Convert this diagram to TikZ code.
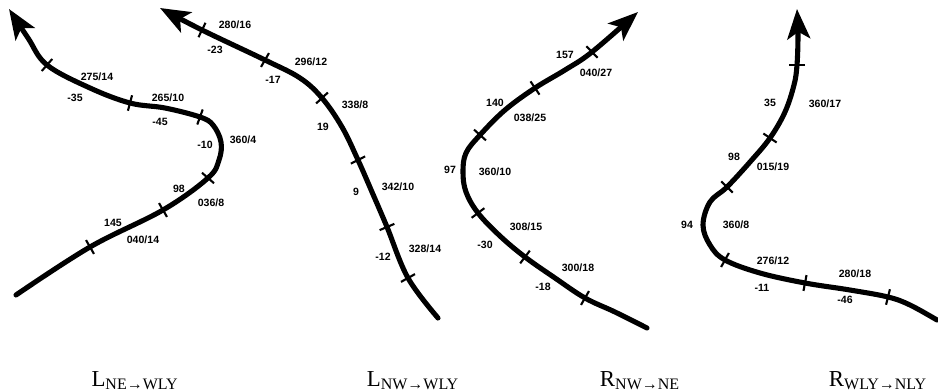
\documentclass[tikz,border=0pt]{standalone}
\usepackage{fontspec}
\setmainfont{Liberation Serif}
\newfontfamily\obsfont{Liberation Sans}
\usetikzlibrary{arrows.meta}
\tikzset{
  track/.style={line width=2.9pt,line cap=round,line join=round,
    -{Stealth[length=17pt,width=13pt,inset=4pt]}},
  tck/.style={line width=1.2pt},
  obs/.style={font=\obsfont\bfseries\fontsize{6}{7}\selectfont,inner sep=0pt},
  caption/.style={font=\fontsize{13}{15}\selectfont,inner sep=0pt,anchor=base}
}

\begin{document}
\begin{tikzpicture}[x=0.02cm,y=-0.02cm]
\useasboundingbox (0,0) rectangle (938,392);
% L NE -> WLY
\draw[track] plot[smooth,tension=.6] coordinates {(16,295) (90,247) (163,210) (208,178) (219,160) (221,142) (213,125) (200,117) (165,108) (130,103) (90,88) (47,65) (28,38) (9,9)};
\foreach \p/\a in {{90,247}/60,{163,210}/60,{208,178}/41,{200,117}/110,{130,103}/105,{47,65}/131}
  \draw[tck] (\p) ++(\a:8) -- ++(\a+180:16);
\foreach \p/\t [count=\i] in {{97,77}/{275/14},{75,98}/{-35},{168,98}/{265/10},{160,122}/{-45},{205,145}/{-10},{243,140}/{360/4},{179,189}/{98},{211,203}/{036/8},{113,223}/{145},{143,240}/{040/14}}
  \node[obs] (a\i) at (\p) {\t};
% L NW -> WLY
\draw[track] plot[smooth,tension=.6] coordinates {(438,318) (408,278) (387,227) (372,192) (358,160) (342,127) (322,98) (300,78) (265,60) (202,30) (160,8)};
\foreach \p/\a in {{202,30}/116,{265,60}/120,{322,98}/137,{358,160}/153,{387,227}/157,{408,278}/151}
  \draw[tck] (\p) ++(\a:8) -- ++(\a+180:16);
\foreach \p/\t [count=\i] in {{235,25}/{280/16},{215,50}/{-23},{311,62}/{296/12},{273,80}/{-17},{355,105}/{338/8},{323,127}/{19},{356,192}/{9},{398,187}/{342/10},{383,257}/{-12},{425,249}/{328/14}}
  \node[obs] (b\i) at (\p) {\t};
% R NW -> NE
\draw[track] plot[smooth,tension=.6] coordinates {(647,328) (615,312) (585,298) (555,278) (525,257) (500,236) (478,213) (466,192) (463,172) (466,153) (480,135) (505,110) (535,88) (565,70) (592,52) (638,12)};
\foreach \p/\a in {{585,298}/120,{525,257}/127,{478,213}/143,{480,135}/42,{535,88}/56,{592,52}/46}
  \draw[tck] (\p) ++(\a:8) -- ++(\a+180:16);
\foreach \p/\t [count=\i] in {{565,55}/{157},{596,73}/{040/27},{495,103}/{140},{530,118}/{038/25},{450,170}/{97},{495,172}/{360/10},{526,227}/{308/15},{485,245}/{-30},{578,268}/{300/18},{543,287}/{-18}}
  \node[obs] (c\i) at (\p) {\t};
% R WLY -> NLY
\draw[track] plot[smooth,tension=.6] coordinates {(937,320) (910,305) (888,297) (850,290) (805,283) (760,273) (725,260) (710,245) (703,225) (710,202) (727,187) (750,162) (770,138) (785,112) (794,85) (797,65) (798,35) (797,9)};
\foreach \p/\a in {{888,297}/104,{805,283}/101,{725,260}/119,{727,187}/44,{770,138}/34,{797,65}/0}
  \draw[tck] (\p) ++(\a:8) -- ++(\a+180:16);
\foreach \p/\t [count=\i] in {{770,103}/{35},{825,104}/{360/17},{734,157}/{98},{773,167}/{015/19},{687,225}/{94},{736,225}/{360/8},{773,261}/{276/12},{855,274}/{280/18},{762,288}/{-11},{845,300}/{-46}}
  \node[obs] (d\i) at (\p) {\t};
% captions
\node[caption] (capA) at (135,386) {L\textsubscript{NE→WLY}};
\node[caption] (capB) at (413,386) {L\textsubscript{NW→WLY}};
\node[caption] (capC) at (640,386) {R\textsubscript{NW→NE}};
\node[caption] (capD) at (878,386) {R\textsubscript{WLY→NLY}};
\end{tikzpicture}
\end{document}
